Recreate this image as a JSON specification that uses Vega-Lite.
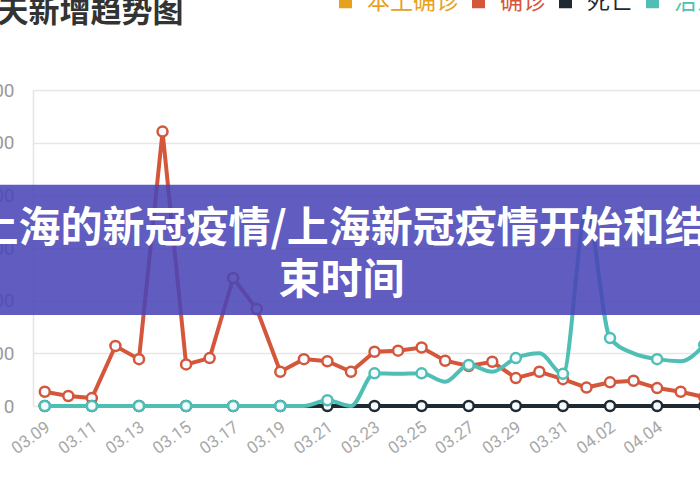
{
  "$schema": "https://vega.github.io/schema/vega-lite/v6.json",
  "width": 667,
  "height": 316,
  "autosize": {"type": "none"},
  "padding": {"left": 33, "top": 90, "right": 0, "bottom": 94},
  "background": "white",
  "config": {"view": {"stroke": null}, "font": "Noto Sans CJK SC"},
  "title": {
    "text": "近30天新增趋势图",
    "anchor": "start",
    "frame": "group",
    "fontSize": 31,
    "fontWeight": "bold",
    "color": "#333333",
    "font": "Noto Sans CJK SC",
    "baseline": "alphabetic",
    "offset": -63,
    "dx": -103
  },
  "datasets": {
    "cases": [
      {"date": "2022/03/09", "series": "确诊", "value": 27},
      {"date": "2022/03/10", "series": "确诊", "value": 19},
      {"date": "2022/03/11", "series": "确诊", "value": 15},
      {"date": "2022/03/12", "series": "确诊", "value": 114},
      {"date": "2022/03/13", "series": "确诊", "value": 89},
      {"date": "2022/03/14", "series": "确诊", "value": 521},
      {"date": "2022/03/15", "series": "确诊", "value": 79},
      {"date": "2022/03/16", "series": "确诊", "value": 91},
      {"date": "2022/03/17", "series": "确诊", "value": 243},
      {"date": "2022/03/18", "series": "确诊", "value": 184},
      {"date": "2022/03/19", "series": "确诊", "value": 65},
      {"date": "2022/03/20", "series": "确诊", "value": 89},
      {"date": "2022/03/21", "series": "确诊", "value": 85},
      {"date": "2022/03/22", "series": "确诊", "value": 65},
      {"date": "2022/03/23", "series": "确诊", "value": 103},
      {"date": "2022/03/24", "series": "确诊", "value": 105},
      {"date": "2022/03/25", "series": "确诊", "value": 111},
      {"date": "2022/03/26", "series": "确诊", "value": 86},
      {"date": "2022/03/27", "series": "确诊", "value": 76},
      {"date": "2022/03/28", "series": "确诊", "value": 84},
      {"date": "2022/03/29", "series": "确诊", "value": 53},
      {"date": "2022/03/30", "series": "确诊", "value": 65},
      {"date": "2022/03/31", "series": "确诊", "value": 51},
      {"date": "2022/04/01", "series": "确诊", "value": 35},
      {"date": "2022/04/02", "series": "确诊", "value": 45},
      {"date": "2022/04/03", "series": "确诊", "value": 48},
      {"date": "2022/04/04", "series": "确诊", "value": 34},
      {"date": "2022/04/05", "series": "确诊", "value": 27},
      {"date": "2022/04/06", "series": "确诊", "value": 17},
      {"date": "2022/03/09", "series": "死亡", "value": 0},
      {"date": "2022/03/10", "series": "死亡", "value": 0},
      {"date": "2022/03/11", "series": "死亡", "value": 0},
      {"date": "2022/03/12", "series": "死亡", "value": 0},
      {"date": "2022/03/13", "series": "死亡", "value": 0},
      {"date": "2022/03/14", "series": "死亡", "value": 0},
      {"date": "2022/03/15", "series": "死亡", "value": 0},
      {"date": "2022/03/16", "series": "死亡", "value": 0},
      {"date": "2022/03/17", "series": "死亡", "value": 0},
      {"date": "2022/03/18", "series": "死亡", "value": 0},
      {"date": "2022/03/19", "series": "死亡", "value": 0},
      {"date": "2022/03/20", "series": "死亡", "value": 0},
      {"date": "2022/03/21", "series": "死亡", "value": 0},
      {"date": "2022/03/22", "series": "死亡", "value": 0},
      {"date": "2022/03/23", "series": "死亡", "value": 0},
      {"date": "2022/03/24", "series": "死亡", "value": 0},
      {"date": "2022/03/25", "series": "死亡", "value": 0},
      {"date": "2022/03/26", "series": "死亡", "value": 0},
      {"date": "2022/03/27", "series": "死亡", "value": 0},
      {"date": "2022/03/28", "series": "死亡", "value": 0},
      {"date": "2022/03/29", "series": "死亡", "value": 0},
      {"date": "2022/03/30", "series": "死亡", "value": 0},
      {"date": "2022/03/31", "series": "死亡", "value": 0},
      {"date": "2022/04/01", "series": "死亡", "value": 0},
      {"date": "2022/04/02", "series": "死亡", "value": 0},
      {"date": "2022/04/03", "series": "死亡", "value": 0},
      {"date": "2022/04/04", "series": "死亡", "value": 0},
      {"date": "2022/04/05", "series": "死亡", "value": 0},
      {"date": "2022/04/06", "series": "死亡", "value": 0},
      {"date": "2022/03/09", "series": "治愈", "value": 0},
      {"date": "2022/03/10", "series": "治愈", "value": 0},
      {"date": "2022/03/11", "series": "治愈", "value": 0},
      {"date": "2022/03/12", "series": "治愈", "value": 0},
      {"date": "2022/03/13", "series": "治愈", "value": 0},
      {"date": "2022/03/14", "series": "治愈", "value": 0},
      {"date": "2022/03/15", "series": "治愈", "value": 0},
      {"date": "2022/03/16", "series": "治愈", "value": 0},
      {"date": "2022/03/17", "series": "治愈", "value": 0},
      {"date": "2022/03/18", "series": "治愈", "value": 0},
      {"date": "2022/03/19", "series": "治愈", "value": 0},
      {"date": "2022/03/20", "series": "治愈", "value": 0},
      {"date": "2022/03/21", "series": "治愈", "value": 11},
      {"date": "2022/03/22", "series": "治愈", "value": 0},
      {"date": "2022/03/23", "series": "治愈", "value": 62},
      {"date": "2022/03/24", "series": "治愈", "value": 61},
      {"date": "2022/03/25", "series": "治愈", "value": 62},
      {"date": "2022/03/26", "series": "治愈", "value": 46},
      {"date": "2022/03/27", "series": "治愈", "value": 78},
      {"date": "2022/03/28", "series": "治愈", "value": 65},
      {"date": "2022/03/29", "series": "治愈", "value": 91},
      {"date": "2022/03/30", "series": "治愈", "value": 100},
      {"date": "2022/03/31", "series": "治愈", "value": 61},
      {"date": "2022/04/01", "series": "治愈", "value": 372},
      {"date": "2022/04/02", "series": "治愈", "value": 129},
      {"date": "2022/04/03", "series": "治愈", "value": 100},
      {"date": "2022/04/04", "series": "治愈", "value": 89},
      {"date": "2022/04/05", "series": "治愈", "value": 85},
      {"date": "2022/04/06", "series": "治愈", "value": 116}
    ],
    "banner": [
      {"text": ["上海的新冠疫情/上海新冠疫情开始和结", "束时间"]}
    ]
  },
  "layer": [
    {
      "data": {"name": "cases"},
      "encoding": {
        "x": {
          "field": "date",
          "type": "temporal",
          "title": null,
          "scale": {
            "domain": [
              {"year": 2022, "month": 3, "date": 8, "hours": 12},
              {"year": 2022, "month": 4, "date": 5, "hours": 19, "minutes": 41}
            ]
          },
          "axis": {
            "values": [
              {"year": 2022, "month": 3, "date": 9},
              {"year": 2022, "month": 3, "date": 11},
              {"year": 2022, "month": 3, "date": 13},
              {"year": 2022, "month": 3, "date": 15},
              {"year": 2022, "month": 3, "date": 17},
              {"year": 2022, "month": 3, "date": 19},
              {"year": 2022, "month": 3, "date": 21},
              {"year": 2022, "month": 3, "date": 23},
              {"year": 2022, "month": 3, "date": 25},
              {"year": 2022, "month": 3, "date": 27},
              {"year": 2022, "month": 3, "date": 29},
              {"year": 2022, "month": 3, "date": 31},
              {"year": 2022, "month": 4, "date": 2},
              {"year": 2022, "month": 4, "date": 4}
            ],
            "format": "%m.%d",
            "labelAngle": -36,
            "labelAlign": "right",
            "labelBaseline": "middle",
            "labelFontSize": 17,
            "labelFont": "Roboto",
            "labelColor": "#a8a8a8",
            "labelPadding": 19,
            "labelOffset": 3,
            "labelFlush": false,
            "labelOverlap": false,
            "ticks": false,
            "domain": false,
            "grid": false,
            "title": null
          }
        },
        "y": {
          "field": "value",
          "type": "quantitative",
          "title": null,
          "scale": {"domain": [0, 600], "nice": false},
          "axis": {
            "values": [0, 100, 200, 300, 400, 500, 600],
            "labelFontSize": 19,
            "labelFont": "Roboto",
            "labelColor": "#9a9a9a",
            "labelPadding": 19,
            "ticks": false,
            "domain": true,
            "domainColor": "#e4e4e4",
            "domainWidth": 1.5,
            "grid": true,
            "gridColor": "#e6e6e6",
            "gridWidth": 1.5,
            "title": null
          }
        },
        "color": {
          "field": "series",
          "type": "nominal",
          "scale": {
            "domain": ["本土确诊", "确诊", "死亡", "治愈"],
            "range": ["#E6A11E", "#D5573B", "#1F2A33", "#4FBFB5"]
          },
          "legend": {
            "orient": "none",
            "legendX": 301,
            "legendY": -100,
            "direction": "horizontal",
            "title": null,
            "padding": 0,
            "labelFontSize": 23,
            "labelFont": "Noto Sans CJK SC",
            "labelLimit": 0,
            "labelOffset": 10,
            "columnPadding": 8,
            "symbolType": "square",
            "symbolSize": 169,
            "symbolStrokeWidth": 0,
            "encode": {
              "symbols": {
                "update": {
                  "fill": {"scale": "color", "field": "value"},
                  "stroke": {"value": "transparent"},
                  "opacity": {"value": 1},
                  "fillOpacity": {"value": 1}
                }
              },
              "labels": {
                "update": {
                  "fill": {"scale": "color", "field": "value"}
                }
              }
            }
          }
        }
      },
      "layer": [
        {
          "transform": [{"filter": {"field": "series", "equal": "确诊"}}],
          "mark": {"type": "line", "strokeWidth": 4, "interpolate": "linear"}
        },
        {
          "transform": [{"filter": {"field": "series", "equal": "确诊"}}],
          "mark": {"type": "point", "filled": false, "fill": "#f6fbff", "fillOpacity": 1, "opacity": 1, "strokeWidth": 2.5, "size": 100}
        },
        {
          "transform": [{"filter": {"field": "series", "equal": "死亡"}}],
          "mark": {"type": "line", "strokeWidth": 4}
        },
        {
          "transform": [
            {"filter": {"field": "series", "equal": "死亡"}},
            {"filter": "(month(datum.date) === 2) === (date(datum.date) % 2 === 1)"}
          ],
          "mark": {"type": "point", "filled": false, "fill": "#f6fbff", "fillOpacity": 1, "opacity": 1, "strokeWidth": 2.5, "size": 100}
        },
        {
          "transform": [{"filter": {"field": "series", "equal": "治愈"}}],
          "mark": {"type": "line", "strokeWidth": 4, "interpolate": "monotone"}
        },
        {
          "transform": [
            {"filter": {"field": "series", "equal": "治愈"}},
            {"filter": "(month(datum.date) === 2) === (date(datum.date) % 2 === 1)"}
          ],
          "mark": {"type": "point", "filled": false, "fill": "#f6fbff", "fillOpacity": 1, "opacity": 1, "strokeWidth": 2.5, "size": 100}
        }
      ]
    },
    {
      "data": {"name": "banner"},
      "mark": {"type": "rect", "color": "#4A45B7", "opacity": 0.88},
      "encoding": {
        "x": {"datum": {"year": 2022, "month": 3, "date": 1}, "type": "temporal", "title": null},
        "x2": {"datum": {"year": 2022, "month": 4, "date": 20}},
        "y": {"datum": 420, "type": "quantitative", "title": null},
        "y2": {"datum": 173}
      }
    },
    {
      "data": {"name": "banner"},
      "mark": {
        "type": "text",
        "align": "center",
        "baseline": "middle",
        "font": "Noto Sans CJK SC",
        "fontSize": 42,
        "fontWeight": "bold",
        "color": "#ffffff",
        "lineHeight": 52,
        "dx": -25
      },
      "encoding": {
        "text": {"field": "text", "type": "nominal"},
        "y": {"datum": 336, "type": "quantitative", "title": null}
      }
    }
  ]
}
